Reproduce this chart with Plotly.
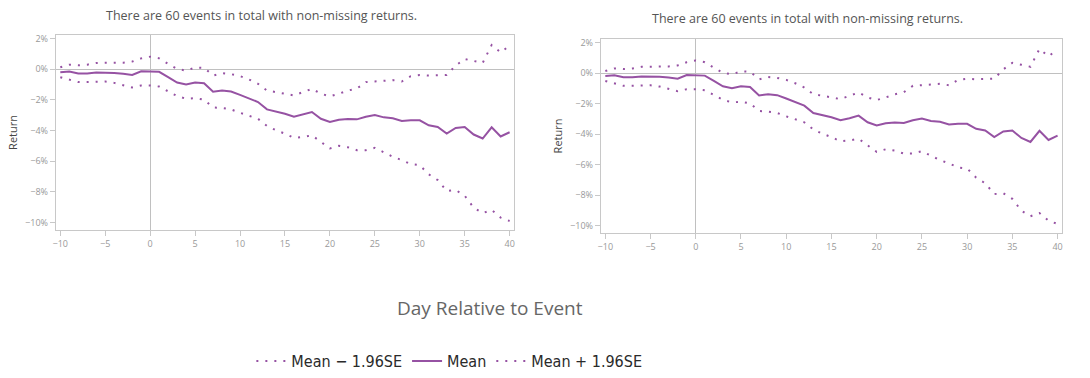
import plotly.graph_objects as go

days = list(range(-10, 41))

mean = [-0.20, -0.15, -0.28, -0.28, -0.22, -0.22, -0.24, -0.30, -0.37, -0.13,
        -0.13, -0.17, -0.52, -0.87, -1.00, -0.87, -0.91, -1.47, -1.39, -1.45,
        -1.67, -1.93, -2.14, -2.62, -2.75, -2.90, -3.10, -2.97, -2.79, -3.23,
        -3.44, -3.29, -3.25, -3.27, -3.10, -2.99, -3.14, -3.20, -3.38, -3.33,
        -3.33, -3.66, -3.77, -4.20, -3.83, -3.77, -4.26, -4.52, -3.79, -4.39,
        -4.11]

upper = [0.13, 0.30, 0.26, 0.30, 0.41, 0.41, 0.43, 0.43, 0.50, 0.71,
         0.82, 0.71, 0.35, 0.02, -0.09, 0.11, 0.09, -0.41, -0.26, -0.32,
         -0.45, -0.67, -0.95, -1.39, -1.49, -1.60, -1.71, -1.49, -1.28, -1.60,
         -1.77, -1.60, -1.39, -1.26, -0.84, -0.80, -0.76, -0.71, -0.80, -0.45,
         -0.37, -0.41, -0.39, -0.37, 0.24, 0.67, 0.54, 0.41, 1.58, 1.10,
         1.54]

lower = [-0.52, -0.67, -0.84, -0.84, -0.80, -0.80, -0.89, -1.02, -1.19, -1.06,
         -1.06, -1.13, -1.45, -1.75, -1.93, -1.88, -1.99, -2.49, -2.53, -2.62,
         -2.84, -3.01, -3.23, -3.70, -3.98, -4.20, -4.48, -4.42, -4.31, -4.74,
         -5.17, -5.00, -5.09, -5.28, -5.28, -5.13, -5.43, -5.71, -5.93, -6.19,
         -6.26, -6.86, -7.23, -7.94, -7.88, -8.25, -9.03, -9.39, -9.18, -9.68,
         -9.90]

title_text = "There are 60 events in total with non-missing returns."
y_ticks = [2, 0, -2, -4, -6, -8, -10]
y_tick_labels = ["2%", "0%", "−2%", "−4%", "−6%", "−8%", "−10%"]
x_ticks = [-10, -5, 0, 5, 10, 15, 20, 25, 30, 35, 40]

PURPLE = "#9652a3"
W, H = 1090, 378

fig = go.Figure()

panels = [
    # (xaxis, yaxis, x0px, x1px, top px, bottom px, showlegend)
    ("x", "y", 53, 513, 32, 229, True),
    ("x2", "y2", 600, 1063, 36, 232, False),
]

for xa, ya, x0, x1, t, b, show in panels:
    fig.add_trace(go.Scatter(x=days, y=lower, mode="lines", name="Mean − 1.96SE",
                             line=dict(color=PURPLE, width=2, dash="2px,7px"),
                             xaxis=xa, yaxis=ya, showlegend=show))
    fig.add_trace(go.Scatter(x=days, y=mean, mode="lines", name="Mean",
                             line=dict(color=PURPLE, width=2),
                             xaxis=xa, yaxis=ya, showlegend=show))
    fig.add_trace(go.Scatter(x=days, y=upper, mode="lines", name="Mean + 1.96SE",
                             line=dict(color=PURPLE, width=2, dash="2px,7px"),
                             xaxis=xa, yaxis=ya, showlegend=show))

axis_common_x = dict(range=[-10.5, 40.5], tickvals=x_ticks, ticks="outside", ticklen=5,
                     tickcolor="#c8c8c8", showline=True, linecolor="#c8c8c8", mirror=True,
                     showgrid=False, zeroline=True, zerolinecolor="#c0c0c0", zerolinewidth=1,
                     tickfont=dict(family="Open Sans", size=9, color="#999999"))
axis_common_y = dict(range=[-10.5, 2.25], tickvals=y_ticks, ticktext=y_tick_labels,
                     ticks="outside", ticklen=5, tickcolor="#c8c8c8", showline=True,
                     linecolor="#c8c8c8", mirror=True, showgrid=False, zeroline=True,
                     zerolinecolor="#c0c0c0", zerolinewidth=1,
                     tickfont=dict(family="Open Sans", size=9, color="#999999"))

layout = dict(
    width=W, height=H,
    margin=dict(l=0, r=0, t=0, b=0),
    paper_bgcolor="white", plot_bgcolor="white",
    showlegend=True,
    legend=dict(orientation="h", x=448 / W, xanchor="center", y=1 - 361 / H, yanchor="middle",
                font=dict(family="DejaVu Sans Condensed, Open Sans", size=16, color="#2a2a2a"),
                itemwidth=30, tracegroupgap=0),
)

for xa, ya, x0, x1, t, b, show in panels:
    xkey = "xaxis" if xa == "x" else "xaxis2"
    ykey = "yaxis" if ya == "y" else "yaxis2"
    layout[xkey] = dict(axis_common_x, domain=[x0 / W, x1 / W], anchor=ya)
    layout[ykey] = dict(axis_common_y, domain=[1 - b / H, 1 - t / H], anchor=xa,
                        title=dict(text="Return", font=dict(family="Open Sans", size=11,
                                                            color="#444444"), standoff=5))

fig.update_layout(**layout)

annotations = [
    dict(text=title_text, x=259 / W, y=1 - 13 / H, xref="paper", yref="paper",
         xanchor="center", yanchor="middle",
         showarrow=False, font=dict(family="Open Sans", size=12.5, color="#555555")),
    dict(text=title_text, x=807 / W, y=1 - 16 / H, xref="paper", yref="paper",
         xanchor="center", yanchor="middle",
         showarrow=False, font=dict(family="Open Sans", size=12.5, color="#555555")),
    dict(text="Day Relative to Event", x=489 / W, y=1 - 307 / H, xref="paper", yref="paper",
         xanchor="center", yanchor="middle",
         showarrow=False, font=dict(family="Open Sans", size=19, color="#666666")),
]
fig.update_layout(annotations=annotations)

fig.write_html("out.html")
